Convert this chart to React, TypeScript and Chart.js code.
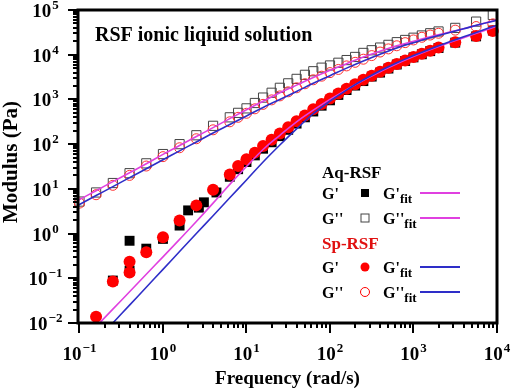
import { useEffect, useRef } from "react";
import { Chart, registerables } from "chart.js";

Chart.register(...registerables);

// ---------- data ----------
// Aq-RSF  G'  (filled black squares)
const freqAqG1 = [0.251, 0.398, 0.398, 0.631, 1, 1.58, 2.0, 2.69, 3.09, 4.37, 6.31, 7.94, 10, 12.6, 15.8, 20, 25.1, 31.6, 39.8, 50.1, 63.1, 79.4, 100, 126, 158, 200, 251, 316, 398, 501, 631, 794, 1000, 1259, 1585, 1995, 3162, 5623, 8913];
const aqG1 = [0.089, 0.69, 0.148, 0.46, 0.76, 1.51, 3.3, 3.8, 5.0, 8.3, 18.6, 27.5, 39.8, 56, 79, 110, 151, 209, 288, 398, 537, 724, 955, 1260, 1620, 2040, 2570, 3240, 3980, 4900, 6030, 7240, 8710, 10230, 12020, 14130, 18620, 25700, 34700];

// Sp-RSF  G'  (filled red circles)
const freqSpG1 = [0.158, 0.251, 0.398, 0.398, 0.631, 1, 1.58, 2.51, 3.98, 6.31, 7.94, 10, 12.6, 15.8, 20, 25.1, 31.6, 39.8, 50.1, 63.1, 79.4, 100, 126, 158, 200, 251, 316, 398, 501, 631, 794, 1000, 1259, 1585, 1995, 3162, 5623, 8913];
const spG1 = [0.0138, 0.085, 0.234, 0.135, 0.38, 0.83, 1.95, 4.27, 9.5, 20.9, 32.4, 45.7, 64.6, 91.2, 126, 174, 240, 324, 437, 603, 794, 1050, 1350, 1740, 2190, 2750, 3390, 4170, 5130, 6170, 7410, 8910, 10470, 12300, 14450, 19050, 26300, 34000];

// G'' of both solutions (open squares / open circles)
const freqG2 = [0.1, 0.158, 0.251, 0.398, 0.631, 1, 1.58, 2.51, 3.98, 6.31, 7.94, 10, 12.6, 15.8, 20, 25.1, 31.6, 39.8, 50.1, 63.1, 79.4, 100, 126, 158, 200, 251, 316, 398, 501, 631, 794, 1000, 1259, 1585, 1995, 3162, 5623, 8913];
const aqG2 = [5.2, 8.3, 13.5, 22.4, 37.2, 60, 100, 158, 257, 398, 501, 631, 832, 1100, 1410, 1820, 2290, 2880, 3550, 4270, 5130, 5750, 6610, 7590, 8910, 10960, 12590, 14450, 16600, 19050, 21380, 23990, 26920, 30200, 33110, 39810, 54950, 77600];
const spG2 = [4.8, 7.4, 12, 20, 32.4, 52.5, 83, 132, 209, 316, 398, 490, 617, 776, 977, 1200, 1480, 1820, 2240, 2750, 3310, 3980, 4680, 5620, 6760, 7940, 9550, 11480, 13490, 15850, 18620, 21380, 24550, 27540, 30200, 35480, 42660, 49000];

// fitted curves
const fitFreq = [0.08, 0.1, 0.158, 0.251, 0.398, 0.631, 1, 1.58, 2.51, 3.98, 6.31, 10, 15.8, 25.1, 39.8, 63.1, 100, 158, 251, 398, 631, 1000, 1580, 2510, 3980, 6310, 10000];
const aqG1Fit = [0.0021, 0.0034, 0.0083, 0.0204, 0.0501, 0.123, 0.302, 0.741, 1.86, 4.79, 12.6, 31.6, 75.9, 158, 316, 575, 1000, 1660, 2690, 4170, 6310, 9120, 12880, 17780, 23990, 32360, 43650];
const spG1Fit = [0.001, 0.00158, 0.00398, 0.01, 0.0251, 0.0631, 0.158, 0.398, 1, 2.51, 6.31, 15.8, 39.8, 95.5, 219, 479, 912, 1620, 2750, 4370, 6610, 9550, 13490, 18620, 25120, 33880, 45710];
const aqG2Fit = [4.57, 5.75, 9.1, 14.5, 22.9, 36.3, 58.9, 93.3, 148, 234, 372, 589, 912, 1410, 2090, 3090, 4470, 6310, 8910, 12020, 15850, 19950, 25120, 30900, 38020, 47860, 60260];
const spG2Fit = [3.55, 4.47, 7.08, 11.2, 17.8, 28.2, 44.7, 70.8, 112, 178, 275, 427, 661, 1000, 1510, 2290, 3390, 5010, 7240, 10230, 14130, 18620, 23990, 30200, 38020, 47860, 58880];

// axis tick labels (powers of ten)
const xTickExps = [-1, 0, 1, 2, 3, 4];
const yTickExps = [-2, -1, 0, 1, 2, 3, 4, 5];

const chartTitle = "RSF ionic liqiuid solution";
const xTitle = "Frequency (rad/s)";
const yTitle = "Modulus (Pa)";

const MAGENTA = "#e040e0";
const BLUE = "#2e2ec8";
const RED = "#ff0000";
const SERIF = "'Liberation Serif', 'Times New Roman', serif";

const pts = (xs: number[], ys: number[]) => xs.map((x, i) => ({ x, y: ys[i] }));

function drawPow(ctx: CanvasRenderingContext2D, exp: number, cx: number, baseline: number) {
  const base = "10";
  const sup = exp < 0 ? "\u2212" + Math.abs(exp) : String(exp);
  const fb = `bold 19px ${SERIF}`;
  const fs = `bold 13px ${SERIF}`;
  ctx.font = fb;
  const wb = ctx.measureText(base).width;
  ctx.font = fs;
  const ws = ctx.measureText(sup).width;
  const left = cx - (wb + ws + 1) / 2;
  ctx.textAlign = "left";
  ctx.textBaseline = "alphabetic";
  ctx.font = fb;
  ctx.fillText(base, left, baseline);
  ctx.font = fs;
  ctx.fillText(sup, left + wb + 1, baseline - 8);
}

const decorPlugin = {
  id: "decor",
  afterDraw(chart: any) {
    const { ctx, chartArea: a, scales } = chart;
    const xs = scales.x;
    const ys = scales.y;
    ctx.save();
    ctx.fillStyle = "#000";
    ctx.strokeStyle = "#000";

    // ticks
    ctx.lineWidth = 2;
    const tickVals = (lo: number, hi: number) => {
      const out: { v: number; major: boolean }[] = [];
      for (let e = -3; e <= 5; e++) {
        for (let m = 1; m <= 9; m++) {
          const v = m * Math.pow(10, e);
          if (v >= lo * 0.9999 && v <= hi * 1.0001) out.push({ v, major: m === 1 });
        }
      }
      return out;
    };
    for (const t of tickVals(xs.min, xs.max)) {
      const px = Math.round(xs.getPixelForValue(t.v));
      ctx.beginPath();
      ctx.moveTo(px, a.bottom);
      ctx.lineTo(px, a.bottom + (t.major ? 10 : 5));
      ctx.stroke();
    }
    for (const t of tickVals(ys.min, ys.max)) {
      const py = Math.round(ys.getPixelForValue(t.v));
      ctx.beginPath();
      ctx.moveTo(a.left, py);
      ctx.lineTo(a.left - (t.major ? 10 : 5), py);
      ctx.stroke();
    }

    // frame
    ctx.lineWidth = 3;
    ctx.strokeRect(a.left, a.top, a.right - a.left, a.bottom - a.top);

    // tick labels
    for (const e of xTickExps) {
      drawPow(ctx, e, xs.getPixelForValue(Math.pow(10, e)), 360);
    }
    for (const e of yTickExps) {
      drawPow(ctx, e, 45.5, ys.getPixelForValue(Math.pow(10, e)) + 7);
    }

    // axis titles
    ctx.fillStyle = "#000";
    ctx.font = `bold 19px ${SERIF}`;
    ctx.textAlign = "center";
    ctx.textBaseline = "alphabetic";
    ctx.fillText(xTitle, (a.left + a.right) / 2 + 0, 384);
    ctx.save();
    ctx.translate(17, 162);
    ctx.rotate(-Math.PI / 2);
    ctx.font = `bold 21px ${SERIF}`;
    ctx.fillText(yTitle, 0, 0);
    ctx.restore();

    // title in plot
    ctx.textAlign = "left";
    ctx.font = `bold 20px ${SERIF}`;
    ctx.fillText(chartTitle, 95, 41);

    // legend
    const lx = 322;
    const mx = 365;
    const fx = 383;
    const lineX0 = 420;
    const lineX1 = 460;
    const labelFont = `bold 16px ${SERIF}`;
    const subFont = `bold 13px ${SERIF}`;
    const drawFitLabel = (txt: string, y: number, color: string) => {
      ctx.fillStyle = "#000";
      ctx.font = labelFont;
      ctx.textAlign = "left";
      ctx.fillText(txt, fx, y + 6);
      const w = ctx.measureText(txt).width;
      ctx.font = subFont;
      ctx.fillText("fit", fx + w, y + 10);
      ctx.strokeStyle = color;
      ctx.lineWidth = 1.8;
      ctx.beginPath();
      ctx.moveTo(lineX0, y);
      ctx.lineTo(lineX1, y);
      ctx.stroke();
    };
    const rowLabel = (txt: string, y: number) => {
      ctx.fillStyle = "#000";
      ctx.font = labelFont;
      ctx.textAlign = "left";
      ctx.fillText(txt, lx, y + 6);
    };

    ctx.font = `bold 17px ${SERIF}`;
    ctx.fillStyle = "#000";
    ctx.fillText("Aq-RSF", lx, 178);
    // row G' Aq
    rowLabel("G'", 193);
    ctx.fillStyle = "#000";
    ctx.fillRect(mx - 4, 193 - 4, 8, 8);
    drawFitLabel("G'", 193, MAGENTA);
    // row G'' Aq
    rowLabel("G''", 218);
    ctx.strokeStyle = "#444";
    ctx.lineWidth = 1;
    ctx.strokeRect(mx - 4, 218 - 4, 8, 8);
    drawFitLabel("G''", 218, MAGENTA);

    ctx.font = `bold 17px ${SERIF}`;
    ctx.fillStyle = "#e01010";
    ctx.fillText("Sp-RSF", lx, 249);
    rowLabel("G'", 267);
    ctx.fillStyle = RED;
    ctx.beginPath();
    ctx.arc(mx, 267, 4.5, 0, Math.PI * 2);
    ctx.fill();
    drawFitLabel("G'", 267, BLUE);
    rowLabel("G''", 292);
    ctx.strokeStyle = RED;
    ctx.lineWidth = 1;
    ctx.beginPath();
    ctx.arc(mx, 292, 4.5, 0, Math.PI * 2);
    ctx.stroke();
    drawFitLabel("G''", 292, BLUE);

    ctx.restore();
  },
};

const whiteBg = {
  id: "whiteBg",
  beforeDraw(chart: any) {
    const { ctx, width, height } = chart;
    ctx.save();
    ctx.fillStyle = "#fff";
    ctx.fillRect(0, 0, width, height);
    ctx.restore();
  },
};

export default function App() {
  const ref = useRef<HTMLCanvasElement | null>(null);
  useEffect(() => {
    document.body.style.margin = "0";
    const canvas = ref.current;
    if (!canvas) return;
    const fitLine = (data: number[], color: string, order: number) => ({
      data: pts(fitFreq, data),
      showLine: true,
      borderColor: color,
      borderWidth: 1.6,
      pointRadius: 0,
      fill: false,
      tension: 0.4,
      order,
    });
    const chart = new Chart(canvas, {
      type: "scatter",
      data: {
        datasets: [
          fitLine(spG2Fit, BLUE, 0),
          fitLine(spG1Fit, BLUE, 1),
          fitLine(aqG2Fit, MAGENTA, 2),
          fitLine(aqG1Fit, MAGENTA, 3),
          {
            data: pts(freqSpG1, spG1),
            pointStyle: "circle",
            pointRadius: 6,
            backgroundColor: RED,
            borderColor: RED,
            borderWidth: 0,
            clip: false,
            order: 4,
          },
          {
            data: pts(freqG2, spG2),
            pointStyle: "circle",
            pointRadius: 5,
            backgroundColor: "rgba(0,0,0,0)",
            borderColor: "#ff3030",
            borderWidth: 1,
            clip: false,
            order: 5,
          },
          {
            data: pts(freqAqG1, aqG1),
            pointStyle: "rect",
            pointRadius: 7,
            backgroundColor: "#000",
            borderColor: "#000",
            borderWidth: 0,
            clip: false,
            order: 6,
          },
          {
            data: pts(freqG2, aqG2),
            pointStyle: "rect",
            pointRadius: 6.5,
            backgroundColor: "rgba(0,0,0,0)",
            borderColor: "#444",
            borderWidth: 1,
            clip: false,
            order: 7,
          },
        ] as any,
      },
      options: {
        animation: false,
        responsive: false,
        maintainAspectRatio: false,
        layout: { padding: { left: 78, right: 16, top: 10, bottom: 65 } },
        plugins: { legend: { display: false }, tooltip: { enabled: false } },
        scales: {
          x: { type: "logarithmic", min: 0.096, max: 10000, display: false },
          y: { type: "logarithmic", min: 0.01, max: 100000, display: false },
        },
      } as any,
      plugins: [whiteBg, decorPlugin],
    });
    return () => chart.destroy();
  }, []);
  return (
    <div style={{ width: 513, height: 388 }}>
      <canvas ref={ref} width={513} height={388} style={{ width: 513, height: 388, display: "block" }} />
    </div>
  );
}
